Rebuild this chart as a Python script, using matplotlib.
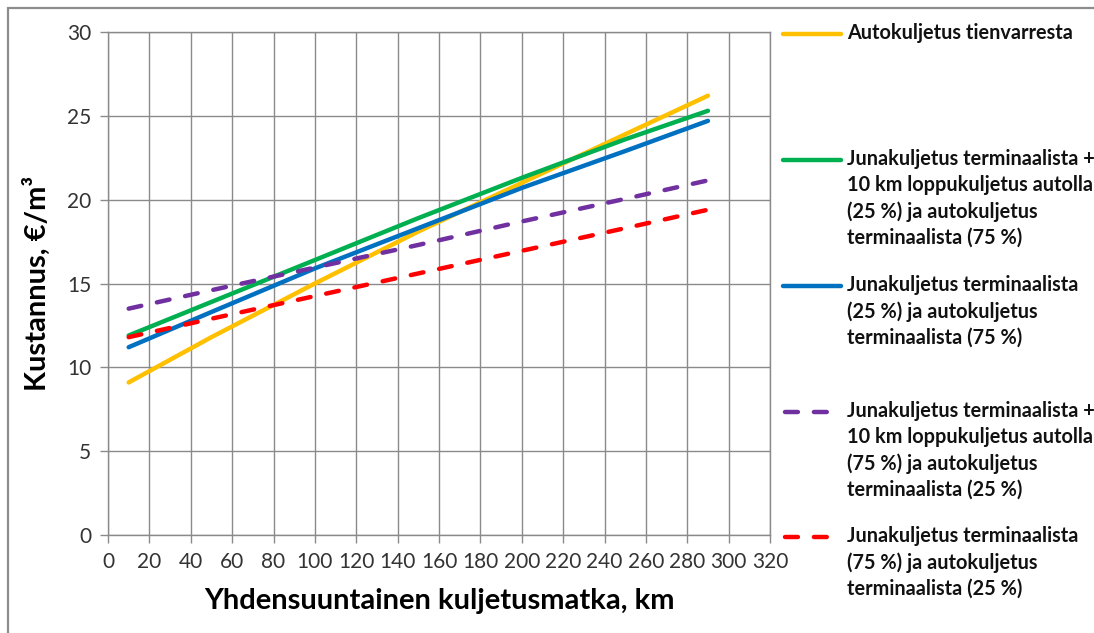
import matplotlib
matplotlib.use("Agg")
import matplotlib.pyplot as plt
from matplotlib.lines import Line2D
from matplotlib.patches import Rectangle

plt.rcParams['font.family'] = ['Lato', 'DejaVu Sans']

# Data
distance_km = [10, 50, 100, 150, 200, 250, 290]
auto_tienvarresta = [9.1, 11.8, 15.0, 18.1, 21.0, 23.9, 26.2]
juna_10km_25 = [11.9, 13.9, 16.4, 18.9, 21.3, 23.6, 25.3]
juna_25 = [11.2, 13.3, 15.9, 18.3, 20.7, 22.9, 24.7]
juna_10km_75 = [13.5, 14.6, 15.95, 17.3, 18.7, 20.05, 21.15]
juna_75 = [11.8, 12.9, 14.25, 15.6, 16.95, 18.3, 19.4]

labels = [
    "Autokuljetus tienvarresta",
    "Junakuljetus terminaalista +\n10 km loppukuljetus autolla\n(25 %) ja autokuljetus\nterminaalista (75 %)",
    "Junakuljetus terminaalista\n(25 %) ja autokuljetus\nterminaalista (75 %)",
    "Junakuljetus terminaalista +\n10 km loppukuljetus autolla\n(75 %) ja autokuljetus\nterminaalista (25 %)",
    "Junakuljetus terminaalista\n(75 %) ja autokuljetus\nterminaalista (25 %)",
]
series = [auto_tienvarresta, juna_10km_25, juna_25, juna_10km_75, juna_75]
colors = ["#FFC000", "#00B050", "#0070C0", "#7030A0", "#FF0000"]
dashed = [False, False, False, True, True]

x_ticks = list(range(0, 321, 20))
y_ticks = list(range(0, 31, 5))

W, H = 1094, 633
LW = 3.2
DASH = (0, (2.9, 3.6))
fig = plt.figure(figsize=(W / 100, H / 100), dpi=100)
fig.patch.set_facecolor("white")

# outer frame
fig.add_artist(Rectangle((8 / W, -0.1), 1.2, 1 - 8 / H + 0.1, transform=fig.transFigure,
                         fill=False, edgecolor="#8c8c8c", linewidth=1.6))

ax = fig.add_axes([108 / W, 1 - 535 / H, (770 - 108) / W, (535 - 32) / H])
ax.set_xlim(0, 320)
ax.set_ylim(0, 30)
ax.set_xticks(x_ticks)
ax.set_yticks(y_ticks)
ax.grid(True, color="#8a8a8a", linewidth=1.0)
ax.set_axisbelow(True)
for s in ax.spines.values():
    s.set_color("#8a8a8a")
    s.set_linewidth(1.0)
ax.tick_params(axis="both", direction="out", length=6, color="#8a8a8a", width=1.0,
               labelsize=15, labelcolor="#333333", pad=6)

for y, c, d in zip(series, colors, dashed):
    if d:
        ax.plot(distance_km, y, color=c, linewidth=LW, linestyle=DASH,
                dash_capstyle="round", solid_capstyle="round")
    else:
        ax.plot(distance_km, y, color=c, linewidth=LW, solid_capstyle="round")

ax.set_xlabel("Yhdensuuntainen kuljetusmatka, km", fontsize=21, fontweight="bold", labelpad=12)
ax.set_ylabel("Kustannus, €/m³", fontsize=21, fontweight="bold", labelpad=12)

# manual legend on the right
legend_first_line_y = [34, 160, 286, 412, 537]
for lab, c, d, yy in zip(labels, colors, dashed, legend_first_line_y):
    yf = 1 - yy / H
    if d:
        fig.add_artist(Line2D([785 / W, 828 / W], [yf, yf], transform=fig.transFigure,
                              color=c, linewidth=LW, linestyle=DASH,
                              dash_capstyle="round"))
    else:
        fig.add_artist(Line2D([783 / W, 841 / W], [yf, yf], transform=fig.transFigure,
                              color=c, linewidth=LW, solid_capstyle="round"))
    fig.text(847 / W, 1 - (yy - 11) / H, lab, ha="left", va="top", fontsize=14.3,
             fontweight="bold", color="#111111", linespacing=1.38)

fig.savefig("out.png", dpi=100)
